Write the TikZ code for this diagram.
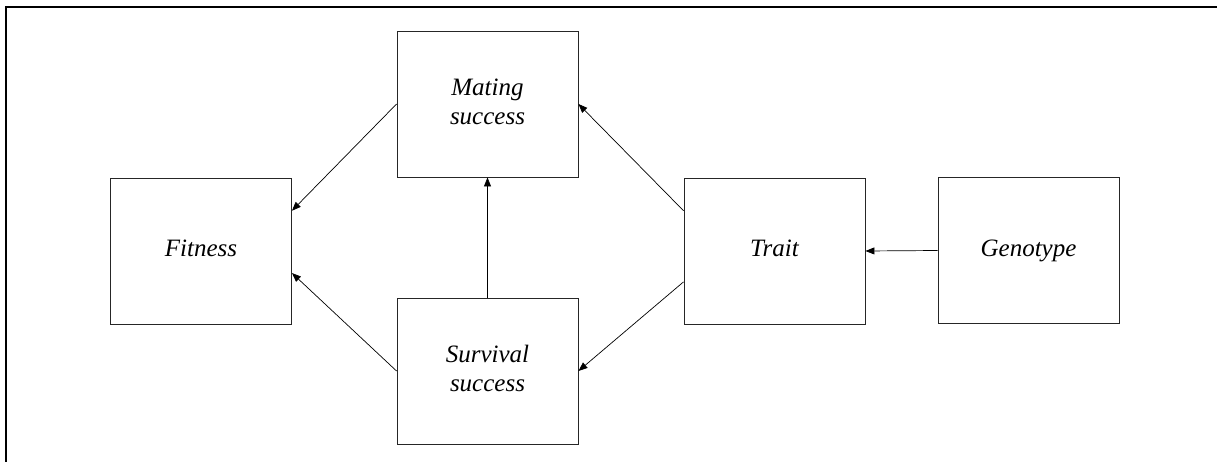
\documentclass[tikz,border=0pt]{standalone}
\usepackage{fontspec}
\setmainfont{Liberation Serif}
\usetikzlibrary{arrows.meta,calc}
\begin{document}
\begin{tikzpicture}[x=1pt,y=-1pt,
  box/.style={draw=black!85,line width=0.9pt,minimum width=181pt,minimum height=146pt,inner sep=0pt,align=center,
    font=\fontsize{25}{29}\selectfont\itshape},
  arr/.style={line width=0.7pt,-{Triangle[length=9pt,width=7pt]}}]
\useasboundingbox (0,0) rectangle (1217,462);
\draw[line width=2pt] (6,462) -- (6,6.8) -- (1217,6.8);
\node[box] (fitness) at (201,251) {\strut Fitness};
\node[box] (mating) at (487.5,104) {\strut Mating\\\strut success};
\node[box] (survival) at (487.5,371) {\strut Survival\\\strut success};
\node[box] (trait) at (774.5,251) {\strut Trait};
\node[box] (genotype) at (1028.5,250.5) {\strut Genotype};
\draw[arr] (genotype.west) -- (trait.east);
\draw[arr] ($(trait.north west)!0.226!(trait.south west)$) -- (mating.east);
\draw[arr] ($(trait.north west)!0.71!(trait.south west)$) -- (survival.east);
\draw[arr] (survival.north) -- (mating.south);
\draw[arr] (mating.west) -- ($(fitness.north east)!0.226!(fitness.south east)$);
\draw[arr] (survival.west) -- ($(fitness.north east)!0.65!(fitness.south east)$);
\end{tikzpicture}
\end{document}
